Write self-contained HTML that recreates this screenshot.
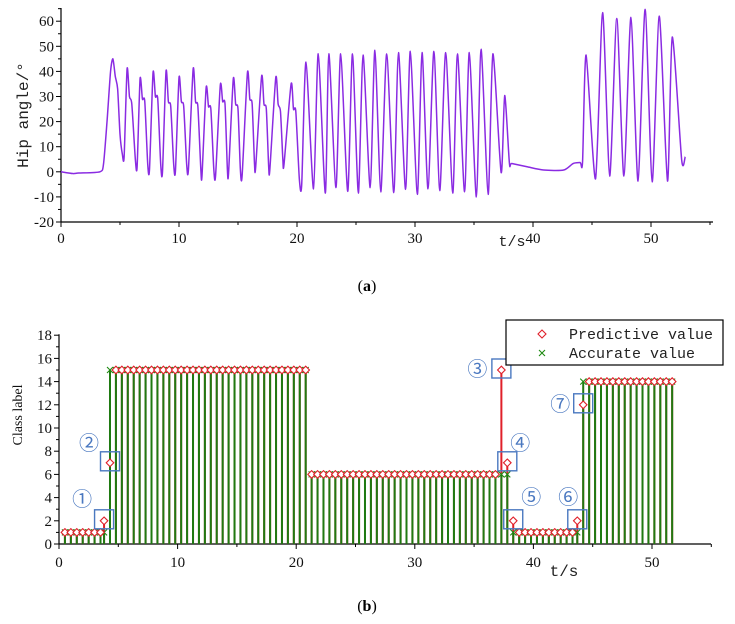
<!DOCTYPE html>
<html><head><meta charset="utf-8"><style>
html,body{margin:0;padding:0;background:#fff;}
svg{display:block;}
.tk{font-family:"Liberation Serif",serif;font-size:15px;fill:#111;}
.mono{font-family:"Liberation Mono",monospace;fill:#222;}
</style></head><body>
<svg id="fig" width="735" height="624" viewBox="0 0 735 624" xmlns="http://www.w3.org/2000/svg">
<g id="chartA"></g>
<g id="chartB"></g>
<text x="367" y="291" text-anchor="middle" font-family="Liberation Serif,serif" font-size="16">(<tspan font-weight="bold">a</tspan>)</text>
<text x="367" y="611" text-anchor="middle" font-family="Liberation Serif,serif" font-size="16">(<tspan font-weight="bold">b</tspan>)</text>
</svg>
<script>
// ---------- Chart A data ----------
const hipT = [0,1,1.5,3.3,3.6,3.9,4.2,4.4,4.6,4.8,5.0,5.2,5.35,
5.6,5.8,6.0,6.3,6.45, 6.7,6.9,7.1,7.35,7.5, 7.8,8.0,8.2,8.45,8.6, 8.9,9.1,9.3,9.55,9.7,
10.0,10.2,10.4,10.65,10.8, 11.2,11.4,11.6,11.85,11.95, 12.3,12.5,12.7,12.95,13.1,
13.5,13.7,13.9,14.1,14.2, 14.6,14.8,15.0,15.2,15.35, 15.8,16.0,16.2,16.4,16.5,
17.0,17.2,17.4,17.6,17.7, 18.2,18.4,18.6,18.8,18.9, 19.5,19.7,19.9,20.2,20.4,
20.76,21.4,21.8,22.4,22.7,23.3,23.7,24.3,24.7,25.2,25.6,26.2,26.6,27.1,27.6,28.2,28.6,29.2,29.6,
30.2,30.6,31.1,31.6,32.1,32.6,33.2,33.6,34.2,34.6,35.2,35.6,36.2,36.6,37.3,37.6,38.0,
38.2,39.5,40.9,42.6,43.4,44.0,44.2,44.5,45.3,45.9,46.5,47.1,47.7,48.3,48.9,49.5,50.1,50.7,51.4,51.8,52.6,52.9];
const hipV = [0,-0.7,-0.5,0,3,20,40,45,38,33,15,7,6,
41,30,27,5,2, 37,29,28,3,1, 39.5,30,29,3,0, 40,28,26,3,0.5,
37.5,28,26,3,1, 41,28,26,1,-1.5, 33.5,26,25,1,-1.5,
34.5,28,27,1,-0.5, 37,27,25,1,-1.5, 39.5,29,27,3,2,
38,27,25,2,1, 37.5,27,24,5,3, 35,25,24,-3,-5,
43.7,-6.8,47,-8.5,47,-6.3,47,-7.8,47,-8.5,46.5,-6.3,48.4,-8,47,-8.3,47.5,-7,48,
-9,47.5,-6.8,48,-7.5,47.5,-8.5,47,-8,47.5,-10,48.8,-9,47,-0.3,30.4,3.5,
3.3,2,0.7,0.7,3.3,3.7,4,46.5,-2.8,63.4,-1.7,61.1,-1.7,61.5,-3.7,64.7,-4,62,-3.7,53.7,4.7,6];
const aYTicks = [-20,-10,0,10,20,30,40,50,60];
const aXTicks = [0,10,20,30,40,50];

// ---------- Chart B data ----------
const clsT = [0.5,1,1.5,2,2.5,3,3.5,3.8,4.3,
4.8,5.3,5.8,6.3,6.8,7.3,7.8,8.3,8.8,9.3,9.8,10.3,10.8,11.3,11.8,12.3,12.8,13.3,13.8,14.3,14.8,15.3,15.8,16.3,16.8,17.3,17.8,18.3,18.8,19.3,19.8,20.3,20.8,
21.3,21.8,22.3,22.8,23.3,23.8,24.3,24.8,25.3,25.8,26.3,26.8,27.3,27.8,28.3,28.8,29.3,29.8,30.3,30.8,31.3,31.8,32.3,32.8,33.3,33.8,34.3,34.8,35.3,35.8,36.3,36.8,
37.3,37.8,38.3,38.8,39.3,39.8,40.3,40.8,41.3,41.8,42.3,42.8,43.3,43.7,44.2,
44.7,45.2,45.7,46.2,46.7,47.2,47.7,48.2,48.7,49.2,49.7,50.2,50.7,51.2,51.7];
const clsAcc = [1,1,1,1,1,1,1,1,15,
15,15,15,15,15,15,15,15,15,15,15,15,15,15,15,15,15,15,15,15,15,15,15,15,15,15,15,15,15,15,15,15,15,
6,6,6,6,6,6,6,6,6,6,6,6,6,6,6,6,6,6,6,6,6,6,6,6,6,6,6,6,6,6,6,6,
6,6,1,1,1,1,1,1,1,1,1,1,1,1,14,
14,14,14,14,14,14,14,14,14,14,14,14,14,14,14];
const clsPred = [1,1,1,1,1,1,1,2,7,
15,15,15,15,15,15,15,15,15,15,15,15,15,15,15,15,15,15,15,15,15,15,15,15,15,15,15,15,15,15,15,15,15,
6,6,6,6,6,6,6,6,6,6,6,6,6,6,6,6,6,6,6,6,6,6,6,6,6,6,6,6,6,6,6,6,
15,7,2,1,1,1,1,1,1,1,1,1,1,2,12,
14,14,14,14,14,14,14,14,14,14,14,14,14,14,14];
const bYTicks = [0,2,4,6,8,10,12,14,16,18];
const bXTicks = [0,10,20,30,40,50];
const annLabels = ["①","②","③","④","⑤","⑥","⑦"];
const annT = [3.8,4.3,37.3,37.8,38.3,43.7,44.2];
const annV = [2,7,15,7,2,2,12];

const NS="http://www.w3.org/2000/svg";
function mk(parent,tag,attrs,txt){const e=document.createElementNS(NS,tag);for(const k in attrs)e.setAttribute(k,attrs[k]);if(txt!==undefined)e.textContent=txt;parent.appendChild(e);return e;}

// ---------- Chart A ----------
(function(){
const g=document.getElementById('chartA');
const x0=61, xs=11.8, yb=222, ys=2.51;
const X=t=>x0+t*xs, Y=v=>yb-(v+20)*ys;
let a=mk(g,'line',{x1:x0,y1:8,x2:x0,y2:yb,stroke:'#000','stroke-width':1.2});


a=mk(g,'line',{x1:x0,y1:yb,x2:713,y2:yb,stroke:'#000','stroke-width':1.2});


for(let v=-20;v<=65;v+=5){const maj=v%10===0;mk(g,'line',{x1:x0,x2:x0-(maj?5:3),y1:Y(v),y2:Y(v),stroke:'#000'});}
aYTicks.forEach(v=>{const t=mk(g,'text',{x:x0-7,y:Y(v)+5,'text-anchor':'end',class:'tk'},String(v));

});
for(let t=0;t<=55;t+=5){const maj=t%10===0;mk(g,'line',{x1:X(t),x2:X(t),y1:yb,y2:yb+(maj?5:3),stroke:'#000'});}
aXTicks.forEach(v=>{const t=mk(g,'text',{x:X(v),y:yb+21,'text-anchor':'middle',class:'tk'},String(v));

});
let tl=mk(g,'text',{x:28,y:115,'text-anchor':'middle',class:'mono','font-size':16,transform:'rotate(-90 28 115)'},'Hip angle/°');


tl=mk(g,'text',{x:512,y:246,'text-anchor':'middle',class:'mono','font-size':15},'t/s');


const pts=hipT.map((t,i)=>[X(t),Y(hipV[i])]);
let d='M'+pts[0][0]+','+pts[0][1];
for(let i=0;i<pts.length-1;i++){
 const p0=pts[Math.max(0,i-1)],p1=pts[i],p2=pts[i+1],p3=pts[Math.min(pts.length-1,i+2)];
 const k=0.12;
 d+=` C${p1[0]+(p2[0]-p0[0])*k},${p1[1]+(p2[1]-p0[1])*k} ${p2[0]-(p3[0]-p1[0])*k},${p2[1]-(p3[1]-p1[1])*k} ${p2[0]},${p2[1]}`;
}
const ln=mk(g,'path',{d:d,fill:'none',stroke:'#8a2be2','stroke-width':1.5,'stroke-linejoin':'round'});


})();

// ---------- Chart B ----------
(function(){
const g=document.getElementById('chartB');
const x0=59, xs=11.86, yb=544, ys=11.6;
const X=t=>x0+t*xs, Y=v=>yb-v*ys;
let a=mk(g,'line',{x1:x0,y1:Y(18)-1,x2:x0,y2:yb,stroke:'#000','stroke-width':1.2});


a=mk(g,'line',{x1:x0,y1:yb,x2:711,y2:yb,stroke:'#000','stroke-width':1.2});


for(let v=0;v<=18;v+=1){const maj=v%2===0;mk(g,'line',{x1:x0,x2:x0-(maj?5:3),y1:Y(v),y2:Y(v),stroke:'#000'});}
bYTicks.forEach(v=>{const t=mk(g,'text',{x:x0-7,y:Y(v)+5,'text-anchor':'end',class:'tk'},String(v));

});
for(let t=0;t<=55;t+=5){const maj=t%10===0;mk(g,'line',{x1:X(t),x2:X(t),y1:yb,y2:yb+(maj?5:3),stroke:'#000'});}
bXTicks.forEach(v=>{const t=mk(g,'text',{x:X(v),y:yb+23,'text-anchor':'middle',class:'tk'},String(v));

});
let tl=mk(g,'text',{x:22,y:415,'text-anchor':'middle','font-family':'Liberation Serif,serif','font-size':14,fill:'#111',transform:'rotate(-90 22 415)'},'Class label');


tl=mk(g,'text',{x:564,y:576,'text-anchor':'middle',class:'mono','font-size':16},'t/s');


clsT.forEach((t,i)=>{
 const r=mk(g,'line',{x1:X(t),x2:X(t),y1:yb,y2:Y(clsPred[i]),stroke:'#e0202a','stroke-width':2});
 
 
});
clsT.forEach((t,i)=>{
 const s=mk(g,'line',{x1:X(t),x2:X(t),y1:yb,y2:Y(clsAcc[i]),stroke:'#1f7a12','stroke-width':2});
 
 
});
clsT.forEach((t,i)=>{
 const cx=X(t),cy=Y(clsAcc[i]);
 const m=mk(g,'path',{d:`M${cx-3},${cy-3}L${cx+3},${cy+3}M${cx-3},${cy+3}L${cx+3},${cy-3}`,stroke:'#1f8a12','stroke-width':1.1});
 
 
});
clsT.forEach((t,i)=>{
 const cx=X(t),cy=Y(clsPred[i]);
 const m=mk(g,'path',{d:`M${cx},${cy-3.8}L${cx+3.8},${cy}L${cx},${cy+3.8}L${cx-3.8},${cy}Z`,fill:'#fff',stroke:'#e0202a','stroke-width':1.1});
 
 
});
const labOff=[[-22,-22],[-21,-20],[-24,-1],[13,-20],[18,-24],[-9,-24],[-23,-1]];
annT.forEach((t,i)=>{
 const cx=X(t),cy=Y(annV[i]);
 const b=mk(g,'rect',{x:cx-9.5,y:cy-11,width:19,height:19,fill:'none',stroke:'#4a78c0','stroke-width':1.4});
 
 
 const l=mk(g,'text',{x:cx+labOff[i][0],y:cy+labOff[i][1]+7,'text-anchor':'middle','font-family':'Liberation Sans,Noto Sans CJK SC,sans-serif','font-size':20,fill:'#4a78c0'},annLabels[i]);
 
 
});
const lg=mk(g,'g',{});


mk(lg,'rect',{x:506,y:320,width:217,height:45,fill:'#fff',stroke:'#000','stroke-width':1.2});
const e1=mk(lg,'g',{});


mk(e1,'path',{d:'M542,330L546,334L542,338L538,334Z',fill:'#fff',stroke:'#e0202a','stroke-width':1.1});
mk(e1,'text',{x:569,y:339,class:'mono','font-size':15},'Predictive value');
const e2=mk(lg,'g',{});


mk(e2,'path',{d:'M539,350L545,356M539,356L545,350',stroke:'#1f8a12','stroke-width':1.1});
mk(e2,'text',{x:569,y:358,class:'mono','font-size':15},'Accurate value');
})();
</script>
</body></html>
